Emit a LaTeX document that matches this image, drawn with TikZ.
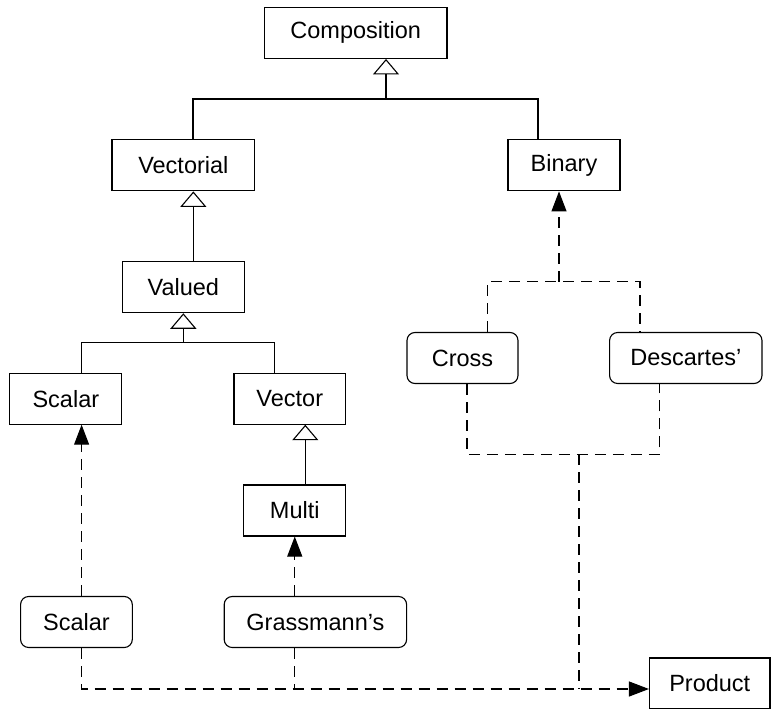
\documentclass[tikz,border=0pt]{standalone}
\usepackage{fontspec}
\setmainfont{Liberation Sans}
\usetikzlibrary{arrows.meta,calc}
\begin{document}
\begin{tikzpicture}[x=1pt,y=-1pt,
  every node/.style={font=\fontsize{23.5}{27}\selectfont, inner sep=0pt},
  cls/.style={draw, line width=1.1pt, rectangle, minimum height=51pt},
  inst/.style={draw, line width=1.1pt, rectangle, rounded corners=8pt, minimum height=51pt},
  plain/.style={line width=1.1pt},
  inh/.style={line width=1.1pt, -{Triangle[open,length=15.5pt,width=26pt]}},
  dashline/.style={line width=1.1pt, dash pattern=on 11pt off 7pt},
  dep/.style={dashline, -{Triangle[length=20pt,width=15pt]}}]
\useasboundingbox (0,0) rectangle (771,709);

\node[cls, minimum width=182.5pt] (comp) at (355.75,32.9) {Composition};
\node[cls, minimum width=142.7pt] (vect) at (183.35,165.35) {Vectorial};
\node[cls, minimum width=112pt] (bin) at (564,165.35) {Binary};
\node[cls, minimum width=121.9pt] (valued) at (183.35,287.2) {Valued};
\node[cls, minimum width=112.1pt] (scalarc) at (65.85,398.65) {Scalar};
\node[cls, minimum width=111.6pt] (vector) at (289.8,398.65) {Vector};
\node[cls, minimum width=101.7pt] (multi) at (294.75,510.5) {Multi};
\node[inst, minimum width=111pt] (cross) at (462.5,358) {Cross};
\node[inst, minimum width=152.4pt] (desc) at (685.8,358) {Descartes’};
\node[inst, minimum width=111.7pt] (scalarp) at (76.45,622) {Scalar};
\node[inst, minimum width=182.4pt] (grass) at (315.4,622) {Grassmann’s};
\node[cls, minimum width=120.5pt] (product) at (709.75,683.5) {Product};

\coordinate (j1) at (386,99);
\coordinate (j2) at (183.35,342.7);
\coordinate (j4) at (559,281.7);
\coordinate (j5) at (579,454.3);
\coordinate (j6) at (579,689);

% generalisation to Composition
\draw[inh] (j1) -- (comp.south -| j1);
\draw[plain] ($(vect.north)+(9.65,0)$) |- (j1) -| ($(bin.north)+(-26,0)$);

% Valued -> Vectorial
\draw[inh] ($(valued.north)+(10,0)$) -- ($(vect.south)+(10,0)$);

% Scalar, Vector -> Valued
\draw[inh] (j2) -- (valued.south);
\draw[plain] ($(scalarc.north)+(15.3,0)$) |- (j2) -| ($(vector.north)+(-15.5,0)$);

% Multi -> Vector
\coordinate (v3) at ($(vector.south)+(15.5,0)$);
\draw[inh] (multi.north -| v3) -- (v3);

% Cross, Descartes' -> Binary
\draw[dep] (j4) -- (bin.south -| j4);
\draw[dashline] ($(cross.north)+(25.2,0)$) |- (j4) -| ($(desc.north)+(-45.8,0)$);

% Cross, Descartes' -> Product
\draw[dashline] ($(cross.south)+(4.5,0)$) |- (j5) -| ($(desc.south)+(-26,0)$);
\draw[dashline] (j5) -- (j6);

% Scalar (instance) -> Scalar
\coordinate (s1) at ($(scalarc.south)+(15.75,0)$);
\draw[dep] (scalarp.north -| s1) -- (s1);

% Grassmann's -> Multi
\draw[dep] (grass.north -| multi.south) -- (multi.south);

% Scalar, Grassmann's -> Product
\draw[dep] (scalarp.south -| s1) |- (product.west |- j6);
\draw[dashline] (grass.south -| multi.south) -- (multi.south |- j6);
\end{tikzpicture}
\end{document}
